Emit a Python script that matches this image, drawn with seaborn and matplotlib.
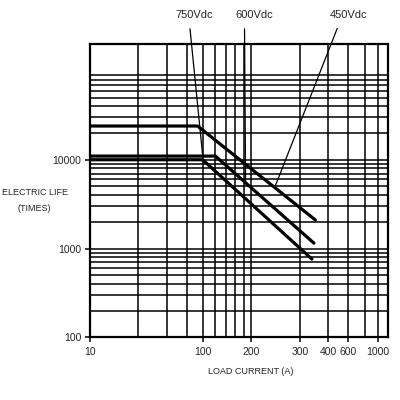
import numpy as np
import pandas as pd
import matplotlib
matplotlib.use("Agg")
import matplotlib.pyplot as plt
import seaborn as sns
from matplotlib.ticker import FixedLocator, LogLocator, NullFormatter


# curve data (load current in A, life in operations)
series_names = ["450Vdc", "600Vdc", "750Vdc"]
current_450 = [10, 90, 350]
life_450 = [24000, 24000, 2100]
current_600 = [10, 120, 345]
life_600 = [11000, 11000, 1150]
current_750 = [10, 100, 338]
life_750 = [10000, 10000, 760]

# where each leader line touches its curve
pointer_current = [245, 185, 100]
pointer_life = [5200, 5400, 11000]

x_tick_values = [10, 100, 200, 300, 400, 600, 1000]
x_tick_labels = ["10", "100", "200", "300", "400", "600", "1000"]
x_grid_values = [27, 48, 73, 120, 140, 160, 180, 800]
y_tick_values = [100, 1000, 10000]
y_tick_labels = ["100", "1000", "10000"]

# the printed chart uses an uneven current axis: piecewise log between ticks
knot_log = np.log10(np.array([10, 100, 200, 300, 400, 600, 1000], dtype=float))
knot_pos = np.array([0, 113, 161.3, 210.6, 238.6, 258.6, 288])


def _extrap(v, xs, ys):
    out = np.interp(v, xs, ys)
    s0 = (ys[1] - ys[0]) / (xs[1] - xs[0])
    s1 = (ys[-1] - ys[-2]) / (xs[-1] - xs[-2])
    out = np.where(v < xs[0], ys[0] + (v - xs[0]) * s0, out)
    out = np.where(v > xs[-1], ys[-1] + (v - xs[-1]) * s1, out)
    return out


def fwd(x):
    x = np.clip(np.asarray(x, dtype=float), 1e-6, None)
    return _extrap(np.log10(x), knot_log, knot_pos)


def inv(p):
    p = np.asarray(p, dtype=float)
    return 10 ** _extrap(p, knot_pos, knot_log)


frames = []
for name, cur, life in [
    ("450Vdc", current_450, life_450),
    ("600Vdc", current_600, life_600),
    ("750Vdc", current_750, life_750),
]:
    frames.append(pd.DataFrame({"series": name, "current": cur, "life": life}))
df = pd.concat(frames, ignore_index=True)

sns.set_style("ticks")
plt.rcParams["font.family"] = ["Liberation Sans", "DejaVu Sans"]

fig = plt.figure(figsize=(4, 4), dpi=100)
ax = fig.add_axes([0.2243, 0.1568, 0.7450, 0.7325])

ax.set_xscale("function", functions=(fwd, inv))
ax.set_yscale("log")

sns.lineplot(
    data=df, x="current", y="life", hue="series", units="series",
    estimator=None, sort=False, palette=["black"] * 3,
    linewidth=2.3, legend=False, ax=ax, zorder=3,
)

ax.set_xlim(10, 1190)
ax.set_ylim(100, 200000)

ax.xaxis.set_major_locator(FixedLocator(x_tick_values))
ax.xaxis.set_minor_locator(FixedLocator(x_grid_values))
ax.set_xticklabels(x_tick_labels)
ax.xaxis.set_minor_formatter(NullFormatter())
ax.yaxis.set_major_locator(FixedLocator(y_tick_values))
ax.set_yticklabels(y_tick_labels)
ax.yaxis.set_minor_locator(LogLocator(base=10, subs=np.arange(2, 10), numticks=20))
ax.yaxis.set_minor_formatter(NullFormatter())

ax.grid(True, which="both", color="black", linewidth=1.1)
ax.tick_params(which="major", length=3.5, width=1.1, labelsize=7.5, color="black")
ax.tick_params(axis="x", which="major", pad=3.5)
ax.tick_params(axis="y", which="major", pad=2.5)
ax.tick_params(which="minor", length=0)
for side in ["top", "bottom", "left", "right"]:
    ax.spines[side].set_linewidth(1.6)
    ax.spines[side].set_color("black")

ax.set_xlabel("LOAD CURRENT (A)", fontsize=6.5)
ax.xaxis.set_label_coords(0.541, -0.102)
ax.set_ylabel("ELECTRIC LIFE\n(TIMES)", fontsize=6.5, rotation=0,
              ha="center", va="center", linespacing=1.9)
ax.yaxis.set_label_coords(-0.185, 0.467)

label_x = [0.867, 0.551, 0.35]
label_rel = [0.3, 0.25, 0.37]
for name, cx, cy, lx, rx in zip(series_names, pointer_current, pointer_life,
                                label_x, label_rel):
    ax.annotate(
        name, xy=(cx, cy), xytext=(lx, 1.10), textcoords="axes fraction",
        ha="center", va="center", fontsize=8, annotation_clip=False,
        arrowprops=dict(arrowstyle="-", color="black", lw=0.9,
                        relpos=(rx, 0), shrinkA=4, shrinkB=0),
    )

fig.savefig("out.png", dpi=100, facecolor="white")
plt.close(fig)
